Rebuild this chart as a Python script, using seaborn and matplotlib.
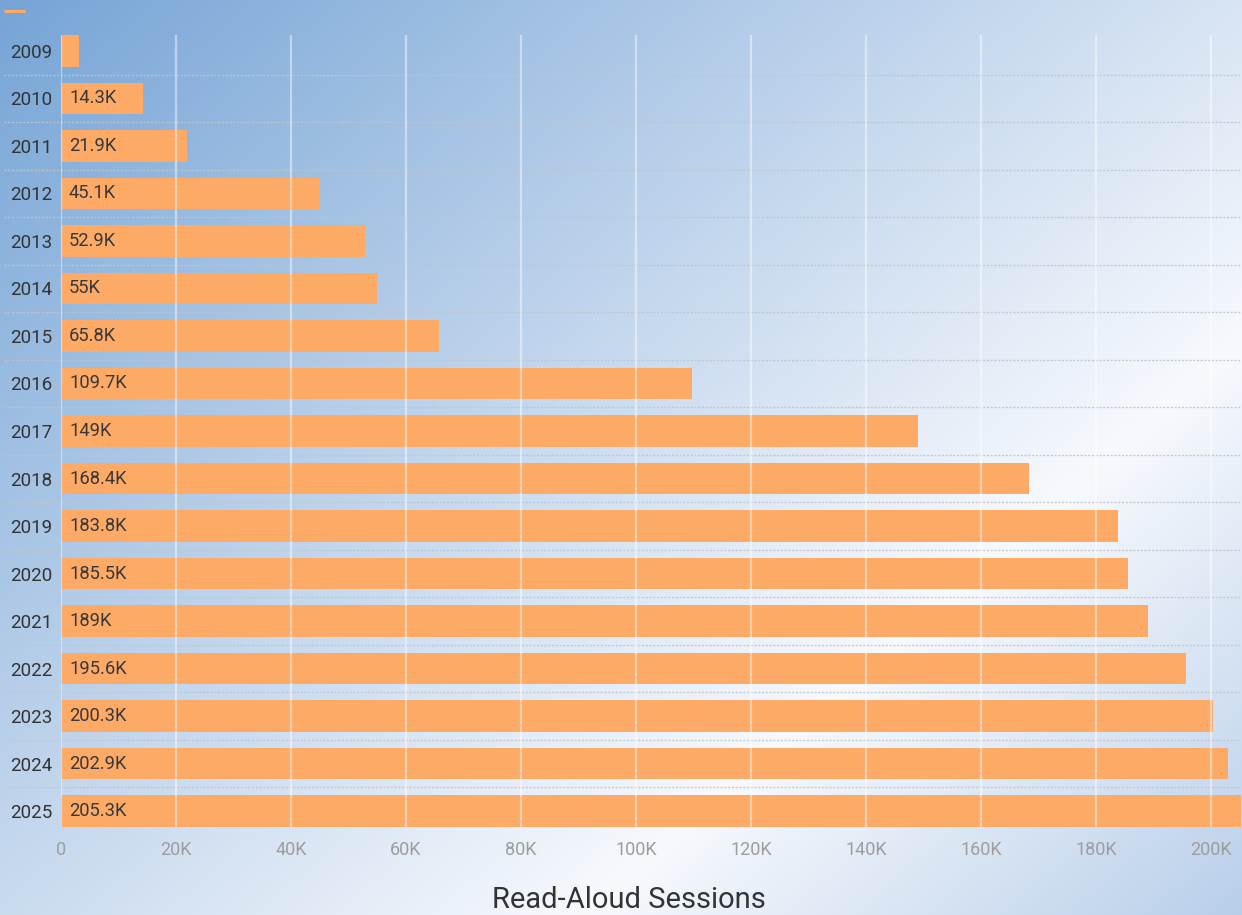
import numpy as np
import pandas as pd
import matplotlib
matplotlib.use("Agg")
import matplotlib.pyplot as plt
import matplotlib.transforms as mtransforms
from matplotlib.lines import Line2D
import seaborn as sns

# Yearly read-aloud session counts
years = ["2009", "2010", "2011", "2012", "2013", "2014", "2015", "2016", "2017",
         "2018", "2019", "2020", "2021", "2022", "2023", "2024", "2025"]
sessions = [3200, 14300, 21900, 45100, 52900, 55000, 65800, 109700, 149000,
            168400, 183800, 185500, 189000, 195600, 200300, 202900, 205300]
value_labels = ["", "14.3K", "21.9K", "45.1K", "52.9K", "55K", "65.8K", "109.7K", "149K",
                "168.4K", "183.8K", "185.5K", "189K", "195.6K", "200.3K", "202.9K", "205.3K"]
x_ticks = [0, 20000, 40000, 60000, 80000, 100000, 120000, 140000, 160000, 180000, 200000]
x_tick_labels = ["0", "20K", "40K", "60K", "80K", "100K", "120K", "140K", "160K", "180K", "200K"]

df = pd.DataFrame({"year": years, "sessions": sessions})

sns.set_style("white")
plt.rcParams["font.family"] = ["Roboto", "DejaVu Sans"]

W, H = 1242, 915
fig = plt.figure(figsize=(W / 100, H / 100), dpi=100)

# Diagonal gradient backdrop: blue top-left, white band, soft blue bottom-right
bg = fig.add_axes([0, 0, 1, 1], zorder=-10)
yy, xx = np.mgrid[0:H, 0:W]
t = (xx * 0.65 + yy * 0.75) / 1493.0
c0 = np.array([118, 164, 214]) / 255
c1 = np.array([247, 249, 253]) / 255
c2 = np.array([184, 207, 234]) / 255
s = 0.713
img = np.empty((H, W, 3))
m = t <= s
u = (t / s)[..., None]
v = ((t - s) / (1 - s))[..., None]
img[m] = (c0 + (c1 - c0) * u)[m]
img[~m] = (c1 + (c2 - c1) * v)[~m]
bg.imshow(np.clip(img, 0, 1), aspect="auto", extent=[0, 1, 0, 1], origin="upper")
bg.set_axis_off()

ax = fig.add_axes([61 / W, 1 - 827 / H, 1 - 61 / W, (827 - 35) / H])
ax.set_facecolor("none")

bar_color = "#FDAA67"
sns.barplot(data=df, x="sessions", y="year", order=years, orient="h",
            color=bar_color, saturation=1, width=0.66, ax=ax, zorder=2,
            linewidth=0, edgecolor="none")

ax.set_xlim(0, 205400)
ax.set_ylim(len(years) - 1 + 0.335, -0.335)

# Vertical gridlines on top of the bars
for xt in x_ticks:
    ax.axvline(xt, color="white", alpha=0.45, lw=1.6, zorder=3)

# Dotted row separators spanning the full width
trans = mtransforms.blended_transform_factory(fig.transFigure, ax.transData)
for k in range(len(years) - 1):
    ax.add_line(Line2D([4 / W, 1], [k + 0.5, k + 0.5], transform=trans,
                       color="#c0c5cc", lw=1.0, ls=(0, (1.5, 1.2)), alpha=0.9,
                       clip_on=False, zorder=1))

# Value labels inside bars
for i, lab in enumerate(value_labels):
    if lab:
        ax.text(1400, i, lab, va="center", ha="left", fontsize=13.2,
                color="#383838", zorder=4)

ax.set_xticks(x_ticks)
ax.set_xticklabels(x_tick_labels)
ax.tick_params(axis="x", length=0, pad=10, labelsize=13, labelcolor="#9d9d9d")
ax.tick_params(axis="y", length=0, pad=6, labelsize=13.5, labelcolor="#333333")
ax.set_xlabel("")
ax.set_ylabel("")
for sp in ax.spines.values():
    sp.set_visible(False)

fig.text(629 / W, 1 - 900 / H, "Read-Aloud Sessions", ha="center", va="center",
         fontsize=21, color="#333333")

# Small series marker in the corner
fig.add_artist(Line2D([5 / W, 24 / W], [1 - 11 / H, 1 - 11 / H],
                      color=bar_color, lw=2.2, transform=fig.transFigure))

fig.savefig("out.png", dpi=100)
